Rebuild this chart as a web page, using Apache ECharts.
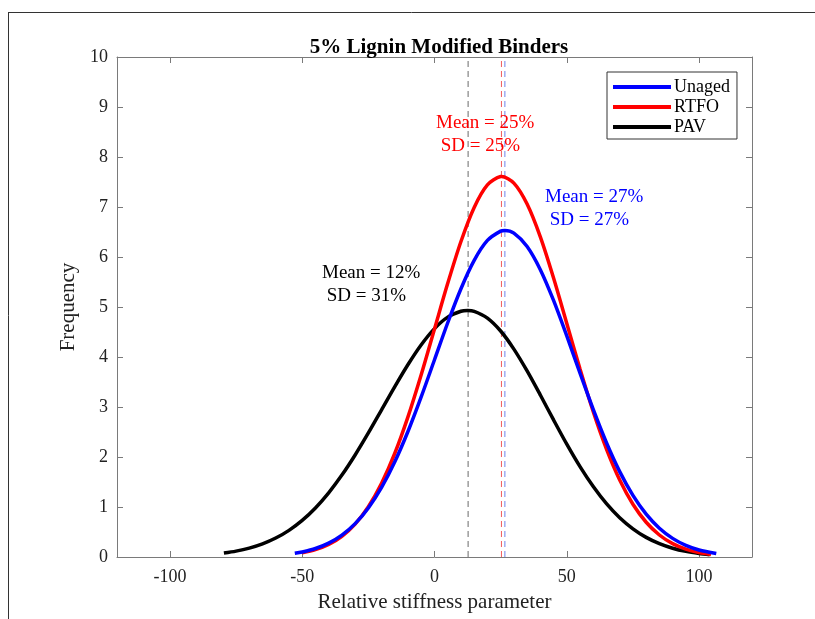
<!DOCTYPE html>
<html>
<head>
<meta charset="utf-8">
<script src="https://cdn.jsdelivr.net/npm/echarts@6/dist/echarts.min.js"></script>
<style>html,body{margin:0;padding:0;background:#fff;}#c{width:815px;height:619px;}</style>
</head>
<body>
<div id="c"></div>
<script>
const seriesNames = ['Unaged', 'RTFO', 'PAV'];
const xTicks = [-100, -50, 0, 50, 100];

const unagedX = [-52.8,-50,-45,-40,-35,-30,-25,-20,-15,-10,-5,0,5,10,15,20,25,26.6,30,35,40,45,50,55,60,65,70,75,80,85,90,95,100,106.5];
const unagedY = [0.073,0.100,0.170,0.278,0.438,0.667,0.981,1.392,1.905,2.515,3.207,3.945,4.685,5.366,5.933,6.331,6.518,6.530,6.476,6.210,5.747,5.131,4.421,3.677,2.951,2.286,1.708,1.232,0.857,0.576,0.373,0.233,0.141,0.069];

const rtfoX = [-50,-45,-40,-35,-30,-25,-20,-15,-10,-5,0,5,10,15,20,25,25.3,30,35,40,45,50,55,60,65,70,75,80,85,90,95,100,104.5];
const rtfoY = [0.082,0.146,0.251,0.415,0.659,1.005,1.473,2.075,2.808,3.650,4.561,5.473,6.310,6.991,7.441,7.609,7.610,7.477,7.058,6.402,5.579,4.671,3.758,2.904,2.157,1.539,1.055,0.695,0.440,0.267,0.156,0.088,0.050];

const pavX = [-79.6,-75,-70,-65,-60,-55,-50,-45,-40,-35,-30,-25,-20,-15,-10,-5,0,5,10,12.5,15,20,25,30,35,40,45,50,55,60,65,70,75,80,85,90,95,100,104];
const pavY = [0.078,0.117,0.178,0.263,0.379,0.533,0.732,0.981,1.283,1.638,2.041,2.481,2.944,3.408,3.850,4.245,4.568,4.797,4.915,4.930,4.913,4.778,4.520,4.158,3.721,3.239,2.742,2.257,1.807,1.408,1.066,0.785,0.563,0.392,0.266,0.175,0.112,0.070,0.047];

const means = [26.6, 25.3, 12.7];
const meanLineY = [0, 10];
const meanLabels = ['Mean = 27%\n SD = 27%', 'Mean = 25%\n SD = 25%', 'Mean = 12%\n SD = 31%'];
const labelPos = [[545, 6.97], [436, 8.45], [322, 5.45]];

const colors = ['#0000ff', '#ff0000', '#000000'];
const dashColors = ['#6f82ea', '#f25c5c', '#6a6a6a'];
const FONT = '"Liberation Serif", "Times New Roman", serif';

function pairs(xs, ys) { return xs.map((x, i) => [x, ys[i]]); }
const dataSets = [pairs(unagedX, unagedY), pairs(rtfoX, rtfoY), pairs(pavX, pavY)];

const chart = echarts.init(document.getElementById('c'), null, {renderer: 'canvas'});

const series = seriesNames.map((n, i) => ({
  name: n,
  type: 'line',
  data: dataSets[i],
  smooth: 0.3,
  showSymbol: false,
  symbol: 'none',
  lineStyle: {color: colors[i], width: 3.5},
  itemStyle: {color: colors[i]},
  z: 5 - i
}));
means.forEach((m, i) => {
  series.push({
    name: seriesNames[i] + ' mean',
    type: 'line',
    data: meanLineY.map(y => [m, y]),
    showSymbol: false,
    symbol: 'none',
    silent: true,
    lineStyle: {color: dashColors[i], type: [6, 4], width: 1},
    itemStyle: {color: dashColors[i]},
    z: 1
  });
});

const lineCol = '#7a7a7a';
const axisLine = {show: true, onZero: false, lineStyle: {color: lineCol, width: 1}};
const tickStyle = {color: lineCol, width: 1};

chart.setOption({
  backgroundColor: '#ffffff',
  animation: false,
  title: {
    text: '5% Lignin Modified Binders',
    left: 434, top: 32, textAlign: 'center',
    textStyle: {fontFamily: FONT, fontWeight: 'bold', fontSize: 21, color: '#000'}
  },
  legend: {
    data: seriesNames.map(n => ({name: n, icon: 'rect'})),
    orient: 'vertical',
    left: 607, top: 72,
    padding: [6, 7, 3, 6],
    itemWidth: 58, itemHeight: 4,
    itemGap: 2,
    borderColor: '#333', borderWidth: 1,
    backgroundColor: '#fff',
    textStyle: {fontFamily: FONT, fontSize: 18, color: '#000', padding: [0, 0, 0, -2], lineHeight: 17}
  },
  grid: {left: 117, right: 63, top: 57, bottom: 62, containLabel: false},
  xAxis: [
    {
      type: 'value', min: -120, max: 120, interval: 10,
      position: 'bottom',
      name: 'Relative stiffness parameter', nameLocation: 'middle', nameGap: 35,
      nameTextStyle: {fontFamily: FONT, fontSize: 21, color: '#222'},
      axisLine: axisLine,
      splitLine: {show: false},
      axisLabel: {fontFamily: FONT, fontSize: 18, color: '#222', margin: 11, customValues: xTicks},
      axisTick: {show: true, inside: true, length: 6, lineStyle: tickStyle, customValues: xTicks}
    },
    {
      type: 'value', min: -120, max: 120, interval: 10, position: 'top',
      axisLine: axisLine,
      splitLine: {show: false},
      axisLabel: {show: false, customValues: xTicks},
      axisTick: {show: true, inside: true, length: 6, lineStyle: tickStyle, customValues: xTicks}
    }
  ],
  yAxis: [
    {
      type: 'value', min: 0, max: 10, interval: 1, position: 'left',
      name: 'Frequency', nameLocation: 'middle', nameGap: 33, nameRotate: 90,
      nameTextStyle: {fontFamily: FONT, fontSize: 21, color: '#222'},
      axisLine: axisLine,
      splitLine: {show: false},
      axisTick: {show: true, inside: true, length: 6, lineStyle: tickStyle},
      axisLabel: {fontFamily: FONT, fontSize: 18, color: '#222', margin: 9}
    },
    {
      type: 'value', min: 0, max: 10, interval: 1, position: 'right',
      axisLine: axisLine,
      splitLine: {show: false},
      axisTick: {show: true, inside: true, length: 6, lineStyle: tickStyle},
      axisLabel: {show: false}
    }
  ],
  series: series
});

// Mean/SD annotations, vertically placed through the library's own y scale
const annotations = seriesNames.map((n, i) => {
  const p = chart.convertToPixel({xAxisIndex: 0, yAxisIndex: 0}, [0, labelPos[i][1]]);
  return {
    type: 'text',
    x: labelPos[i][0], y: p[1],
    style: {
      text: meanLabels[i], fill: colors[i],
      font: '19px ' + FONT, align: 'left', verticalAlign: 'middle', lineHeight: 23
    },
    silent: true, z: 20
  };
});
chart.setOption({graphic: [
  {type: 'line', shape: {x1: 8, y1: 12.5, x2: 815, y2: 12.5}, style: {stroke: '#333', lineWidth: 1}, silent: true},
  {type: 'line', shape: {x1: 8.5, y1: 12, x2: 8.5, y2: 619}, style: {stroke: '#333', lineWidth: 1}, silent: true}
].concat(annotations)});
</script>
</body>
</html>
